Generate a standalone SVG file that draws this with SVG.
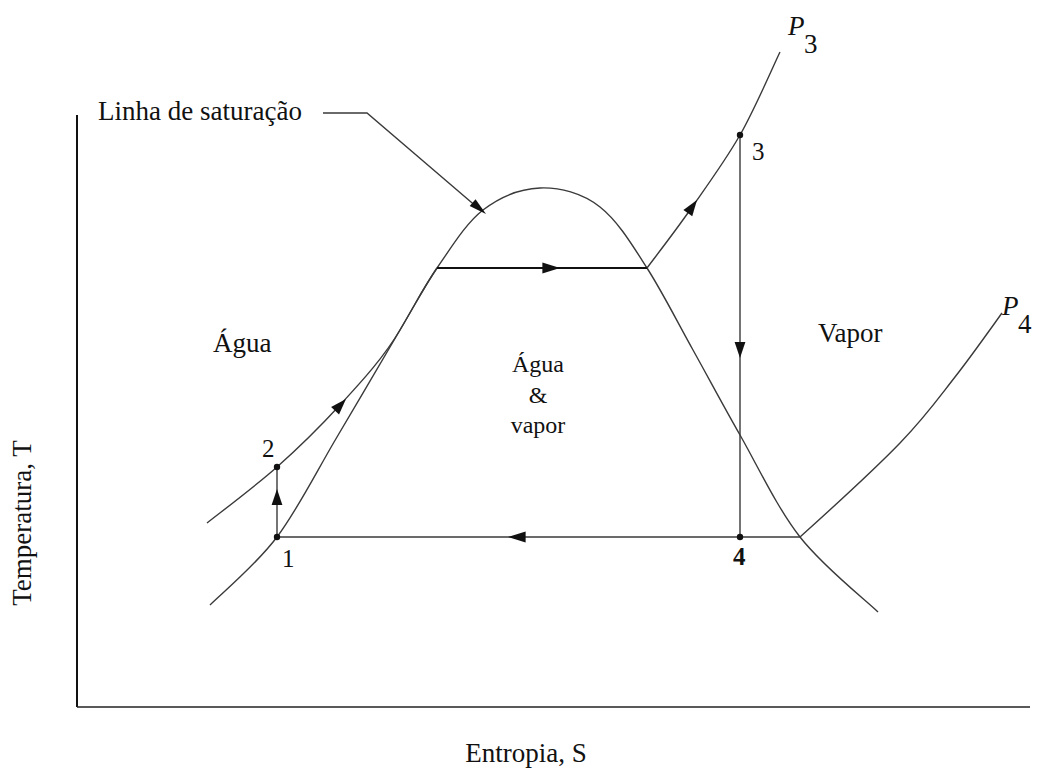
<svg xmlns="http://www.w3.org/2000/svg" width="1039" height="769" viewBox="0 0 1039 769">
<style>
.t{font-family:"Liberation Serif",serif;fill:#111;font-size:27px}
.n{font-size:25px}
.m{font-size:24px}
.c{fill:none;stroke:#3a3a3a;stroke-width:1.4}
.k{fill:none;stroke:#111;stroke-width:2.2}
.ah{fill:#111}
.pt{fill:#111}
</style>
<defs>
<path id="tri" d="M0,0 L-16,-6 L-16,6 z"/>
</defs>
<rect width="1039" height="769" fill="#fff"/>
<g id="axes">
<line x1="77" y1="115" x2="77" y2="707" stroke="#111" stroke-width="2"/>
<line x1="77" y1="707" x2="1030" y2="707" stroke="#222" stroke-width="1.6"/>
</g>
<g id="connectors">
<path id="dome" class="c" d="M210,605 C221,594 256,565 277,537 C298,509 316.5,471.5 337,437 C357.5,402.5 383.3,358.2 400,330 C416.7,301.8 424,287 437,268 C451,248 465.8,223.3 483,210 C500.2,196.7 520.5,188.8 540,188 C559.5,187.2 582.2,193 600,207 C617.8,221 631.5,243.8 647,268 C662.5,292.2 677.5,322.2 693,350 C708.5,377.8 722.2,403.8 740,435 C757.8,466.2 777,507.5 800,537 C823,566.5 865,599.5 878,612"/>
<path id="p3-low" class="c" d="M207,523 C218.7,513.7 254.8,486.7 277,467 C299.2,447.3 319.5,427.3 340,405 C360.5,382.7 383.3,358.2 400,330 C416.7,301.8 424,287 437,268"/>
<line id="evap" class="k" x1="437" y1="268" x2="647" y2="268"/>
<path id="p3-high" class="c" d="M647,268 C654.2,258.3 674.5,232.2 690,210 C705.5,187.8 725,161.3 740,135 C755,108.7 773.3,65.8 780,52"/>
<line id="expand" class="c" x1="740" y1="135" x2="740" y2="537"/>
<line id="condense" class="c" x1="277" y1="537" x2="800" y2="537"/>
<path id="p4" class="c" d="M800,537 C820,519 872,472 900,443 C925.8,416.3 938,398.7 955,377 C972,355.3 994.2,323.7 1002,313"/>
<line id="pump" class="c" x1="277" y1="537" x2="277" y2="467"/>
<polyline id="leader" class="c" points="323,113 367,113 478,208"/>
<use href="#tri" class="ah" transform="translate(486,214) rotate(40.5) scale(1.1,0.75)"/>
<use href="#tri" class="ah" transform="translate(277,489) rotate(-90) scale(1,0.9)"/>
<use href="#tri" class="ah" transform="translate(740,358) rotate(90) scale(1,0.9)"/>
<use href="#tri" class="ah" transform="translate(560,268) scale(1.1,0.9)"/>
<use href="#tri" class="ah" transform="translate(508,537) rotate(180) scale(1.1,0.9)"/>
<use href="#tri" class="ah" transform="translate(346,399) rotate(-47) scale(1,0.9)"/>
<use href="#tri" class="ah" transform="translate(697,200) rotate(-55) scale(1,0.9)"/>
</g>
<g id="points">
<circle class="pt" cx="277" cy="537" r="3.2"/>
<circle class="pt" cx="277" cy="467" r="3.2"/>
<circle class="pt" cx="740" cy="135" r="3.2"/>
<circle class="pt" cx="740" cy="537" r="3.2"/>
</g>
<g id="labels">
<text class="t" x="98" y="120" font-size="28">Linha de saturação</text>
<text class="t" x="213" y="352">Água</text>
<text class="t m" x="538" y="372" text-anchor="middle">Água</text>
<text class="t m" x="538" y="403" text-anchor="middle">&amp;</text>
<text class="t m" x="538" y="433" text-anchor="middle">vapor</text>
<text class="t" x="818" y="342" font-size="25">Vapor</text>
<text class="t n" x="282" y="567">1</text>
<text class="t n" x="262" y="457">2</text>
<text class="t n" x="752" y="160">3</text>
<text class="t n" x="733" y="565" font-weight="bold">4</text>
<text class="t" x="788" y="35" font-size="34" font-style="italic">P</text>
<text class="t" x="804" y="53" font-size="22">3</text>
<text class="t" x="1002" y="315" font-size="34" font-style="italic">P</text>
<text class="t" x="1018" y="333" font-size="22">4</text>
<text class="t" x="526" y="762" text-anchor="middle">Entropia, S</text>
<text class="t" transform="translate(31,523) rotate(-90)" text-anchor="middle">Temperatura, T</text>
</g>
</svg>
